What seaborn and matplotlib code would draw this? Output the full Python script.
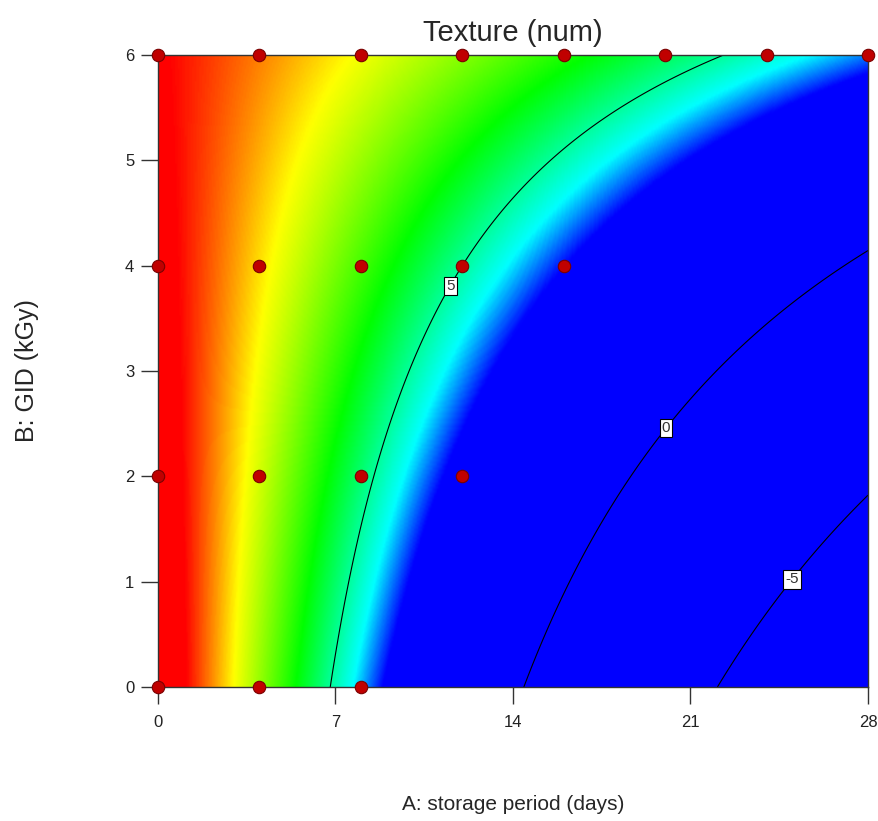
import numpy as np
import matplotlib
matplotlib.use('Agg')
import matplotlib.pyplot as plt
from matplotlib.colors import LinearSegmentedColormap
import seaborn as sns

# quadratic response surface for Texture: b0 + A + B + AB + A^2 + B^2
coef_names = ['b0', 'A', 'B', 'AB', 'A2', 'B2']
coef_values = [9.45, -0.655, -0.1338, 0.08077, 0.0, 0.00425]

# design points (storage days, GID kGy)
design_days = [0, 4, 8, 12, 16, 20, 24, 28, 0, 4, 8, 12, 16, 0, 4, 8, 12, 0, 4, 8]
design_dose = [6, 6, 6, 6, 6, 6, 6, 6, 4, 4, 4, 4, 4, 2, 2, 2, 2, 0, 0, 0]

contour_levels = [-5, 0, 5]
label_spots = [(24.7, 1.08), (19.8, 2.5), (11.6, 3.8)]
x_ticks = [0, 7, 14, 21, 28]
y_ticks = [0, 1, 2, 3, 4, 5, 6]

font = ['Liberation Sans', 'DejaVu Sans']

sns.set_style('ticks')
plt.rcParams['font.family'] = font

c = dict(zip(coef_names, coef_values))
A, B = np.meshgrid(np.linspace(0, 28, 500), np.linspace(0, 6, 300))
Z = (c['b0'] + c['A'] * A + c['B'] * B + c['AB'] * A * B
     + c['A2'] * A ** 2 + c['B2'] * B ** 2)

cmap = LinearSegmentedColormap.from_list('de', [
    (0.0, '#0000FF'), (0.10, '#0000FF'), (0.22, '#00FFFF'),
    (0.45, '#00FF00'), (0.70, '#FFFF00'), (0.89, '#FF0000'), (1.0, '#FF0000')])

fig = plt.figure(figsize=(8.79, 8.21), dpi=100)
ax = fig.add_axes([0.1797, 0.1632, 0.8078, 0.7698])

ax.imshow(Z, extent=[0, 28, 0, 6], origin='lower', aspect='auto',
          cmap=cmap, vmin=3.0, vmax=9.45, interpolation='bilinear')
cs = ax.contour(A, B, Z, levels=contour_levels, colors='black',
                linewidths=0.8, linestyles='solid')
labels = ax.clabel(cs, fmt='%d', manual=label_spots, inline=True, fontsize=11)
for t in labels:
    t.set_rotation(0)
    t.set_color('#333333')
    t.set_bbox(dict(facecolor='white', edgecolor='black', linewidth=0.8, pad=1.5))

sns.scatterplot(x=design_days, y=design_dose, ax=ax, s=80, color='#C00000',
                edgecolor='#7A0000', linewidth=0.8, clip_on=False, zorder=5)

ax.set_xlim(0, 28)
ax.set_ylim(0, 6)
ax.set_xticks(x_ticks)
ax.set_yticks(y_ticks)
ax.tick_params(direction='out', length=12, width=1, color='#333333',
               labelsize=12, labelcolor='#222222')
ax.tick_params(axis='x', pad=8)
ax.tick_params(axis='y', pad=5)
for s in ax.spines.values():
    s.set_color('#333333')
    s.set_linewidth(1)

ax.set_title('Texture (num)', fontsize=21, pad=10)
ax.set_xlabel('A: storage period (days)', fontsize=15, labelpad=47)
ax.set_ylabel('B: GID (kGy)', fontsize=18, labelpad=62)

fig.savefig('out.png', dpi=100)
